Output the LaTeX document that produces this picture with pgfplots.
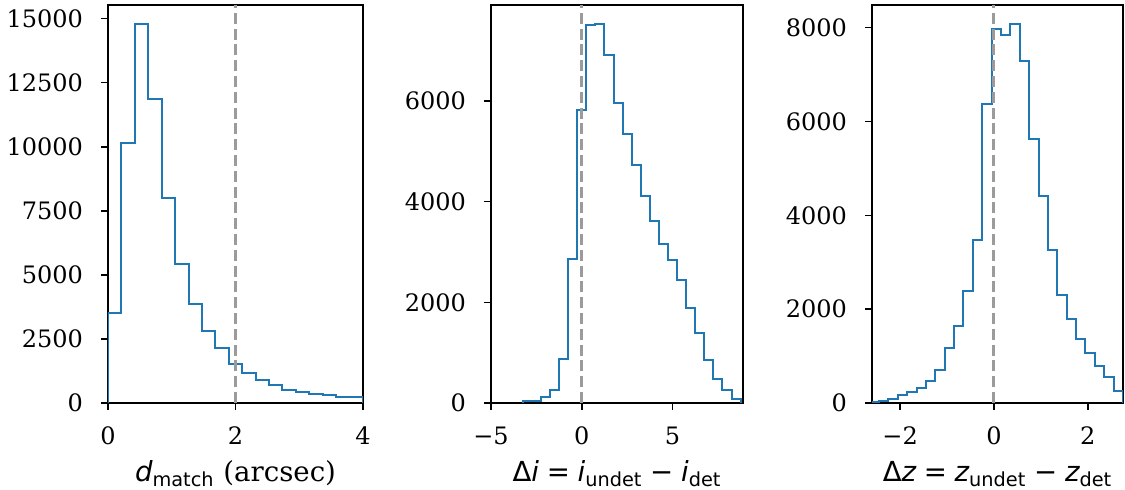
\documentclass[border=0pt]{standalone}
\usepackage{fontspec}
\setmainfont{DejaVu Serif}
\newfontfamily\mf{DejaVu Sans}
\usepackage{pgfplots}
\pgfplotsset{compat=1.18}
\definecolor{histblue}{HTML}{1F77B4}
\definecolor{dgray}{RGB}{155,155,155}
\newcommand{\rel}[1]{{\mf\hspace{0.28em}#1\hspace{0.28em}}}
\pgfplotsset{
  myax/.style={scale only axis, anchor=south west, height=199pt, ymin=0,
    tick align=outside, xtick pos=bottom, ytick pos=left,
    major tick length=3.5pt, minor tick num=0,
    axis line style={line width=0.8pt},
    every tick/.style={black, line width=0.8pt},
    tick label style={font=\fontsize{12}{14}\selectfont},
    xticklabel style={yshift=-5pt},
    yticklabel style={xshift=-5.5pt},
    label style={font=\fontsize{13.8}{16}\selectfont},
    xlabel style={at={(axis description cs:0.5,0)}, anchor=base, yshift=-39.3pt},
    clip=true},
  hist/.style={histblue, line width=1pt, const plot mark left, mark=none, line join=miter},
  zline/.style={dgray, line width=1.5pt, dash pattern=on 5.5pt off 2.4pt}
}
\begin{document}
\begin{tikzpicture}
\useasboundingbox (0,0) rectangle (562.5pt,244.5pt);
% Panel 1
\begin{axis}[myax, at={(54pt,43pt)}, width=127.5pt,
  xmin=0, xmax=4, ymax=15530,
  xtick={0,2,4}, xticklabels={0,2,4},
  ytick={0,2500,5000,7500,10000,12500,15000},
  yticklabels={0,2500,5000,7500,10000,12500,15000},
  xlabel={{\mf\itshape d}\textsubscript{\mf match} (arcsec)}]
\addplot[hist] coordinates {
(0,0) (0,3512) (0.2105,10147) (0.4211,14791) (0.6316,11877) (0.8421,8013)
(1.0526,5438) (1.2632,3877) (1.4737,2797) (1.6842,2160) (1.8947,1522)
(2.1053,1158) (2.3158,885) (2.5263,715) (2.7368,520) (2.9474,442)
(3.1579,364) (3.3684,299) (3.5789,240) (3.7895,230) (4.0,230) (4.0,0)};
\addplot[zline] coordinates {(2,0) (2,15530)};
\end{axis}
% Panel 2
\begin{axis}[myax, at={(245.5pt,43pt)}, width=126pt,
  xmin=-5, xmax=8.88, ymax=7907,
  xtick={-5,0,5}, xticklabels={−5,0,5},
  ytick={0,2000,4000,6000}, yticklabels={0,2000,4000,6000},
  xlabel={{\mf Δ\itshape i}\rel{=}{\mf\itshape i}\textsubscript{\mf undet}\rel{−}{\mf\itshape i}\textsubscript{\mf det}}]
\addplot[hist] coordinates {
(-3.25,0) (-3.25,40) (-2.75,45) (-2.25,113) (-1.75,265) (-1.25,874)
(-0.75,2854) (-0.25,5828) (0.25,7503) (0.75,7530) (1.25,6907) (1.75,5960)
(2.25,5344) (2.75,4735) (3.25,4106) (3.75,3609) (4.25,3159) (4.75,2834)
(5.25,2437) (5.75,1887) (6.25,1391) (6.75,848) (7.25,477) (7.75,265)
(8.25,80) (8.75,80) (8.75,0)};
\addplot[zline] coordinates {(0,0) (0,7907)};
\end{axis}
% Panel 3
\begin{axis}[myax, at={(436pt,43pt)}, width=125.5pt,
  xmin=-2.6, xmax=2.75, ymax=8483,
  xtick={-2,0,2}, xticklabels={−2,0,2},
  ytick={0,2000,4000,6000,8000}, yticklabels={0,2000,4000,6000,8000},
  xlabel={{\mf Δ\itshape z}\rel{=}{\mf\itshape z}\textsubscript{\mf undet}\rel{−}{\mf\itshape z}\textsubscript{\mf det}}]
\addplot[hist] coordinates {
(-2.65,0) (-2.65,20) (-2.45,35) (-2.25,92) (-2.05,163) (-1.85,234)
(-1.65,319) (-1.45,476) (-1.25,710) (-1.05,1171) (-0.85,1647) (-0.65,2378)
(-0.45,3479) (-0.25,6368) (-0.05,7966) (0.15,7845) (0.35,8079) (0.55,7298)
(0.75,5630) (0.95,4416) (1.15,3252) (1.35,2307) (1.55,1796) (1.75,1370)
(1.95,1065) (2.15,795) (2.35,554) (2.55,248) (2.75,248) (2.75,0)};
\addplot[zline] coordinates {(0,0) (0,8483)};
\end{axis}
\end{tikzpicture}
\end{document}
